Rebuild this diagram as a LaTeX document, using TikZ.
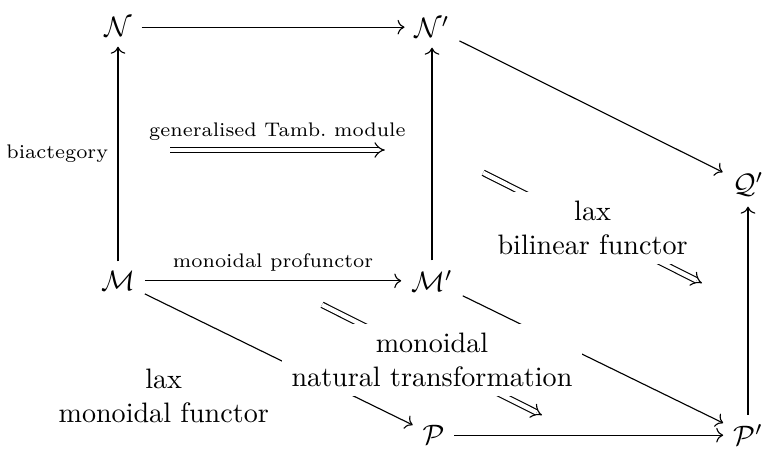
\documentclass[tikz,border=0pt]{standalone}
\usetikzlibrary{arrows.meta}
\begin{document}
\begin{tikzpicture}[>={Computer Modern Rightarrow},
    lbl/.style={font=\scriptsize},
    twocell/.style={double,double equal sign distance,-{Implies}},
    cellname/.style={fill=white,align=center}]
  \useasboundingbox (0,0) rectangle (9.525,-5.6375);
  % The objects: back face N, N', Q' and front face M, M', P, P'.
  \node (N) at (1.475,-.34) {\(\mathcal{N}\)};
  \node (Np) at (5.4,-.34) {\(\mathcal{N}'\)};
  \node (Qp) at (9.35,-2.31) {\(\mathcal{Q}'\)};
  \node (M) at (1.475,-3.51) {\(\mathcal{M}\)};
  \node (Mp) at (5.4,-3.51) {\(\mathcal{M}'\)};
  \node (P) at (5.42,-5.44) {\(\mathcal{P}\)};
  \node (Pp) at (9.35,-5.44) {\(\mathcal{P}'\)};
  % 1-cells.
  \draw[->] (N) -- (Np);
  \draw[->] (M) -- node[left,lbl] {biactegory} (N);
  \draw[->] (Mp) -- (Np);
  \draw[->] (Np) -- (Qp);
  \draw[->] (M) -- node[above,lbl] {monoidal profunctor} (Mp);
  \draw[->] (M) -- node[anchor=north east,align=center] {lax\\monoidal functor} (P);
  \draw[->] (Mp) -- (Pp);
  \draw[->] (P) -- (Pp);
  \draw[->] (Pp) -- (Qp);
  % 2-cells go last, so that their white names cut the lines behind.
  \coordinate (tamb1) at (2.125,-1.875);
  \coordinate (tamb2) at (4.81,-1.875);
  \coordinate (bil1) at (6.04,-2.16);
  \coordinate (bil2) at (8.775,-3.54);
  \coordinate (nat1) at (4.025,-3.81);
  \coordinate (nat2) at (6.775,-5.19);
  \draw[twocell] (tamb1) -- node[above,lbl] {generalised Tamb.\ module} (tamb2);
  \draw[twocell] (bil1) -- node[cellname] {lax\\bilinear functor} (bil2);
  \draw[twocell] (nat1) -- node[cellname] {monoidal\\natural transformation} (nat2);
\end{tikzpicture}
\end{document}
